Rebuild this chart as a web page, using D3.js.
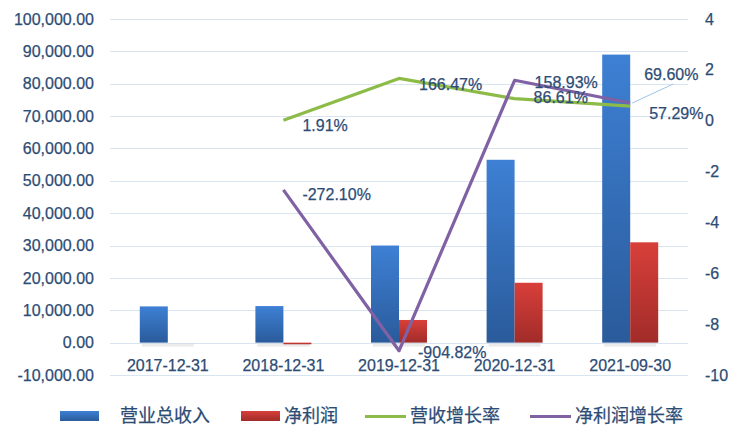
<!DOCTYPE html>
<html>
<head>
<meta charset="utf-8">
<script src="https://cdn.jsdelivr.net/npm/d3@7"></script>
<style>
  body { margin: 0; background: #fff; }
  svg text { font-family: "Liberation Sans", Arial, sans-serif; fill: #2d4c75; stroke: #2d4c75; stroke-width: 0.25px; }
</style>
</head>
<body>
<svg id="chart" width="733" height="441"></svg>
<script>
const categories = ['2017-12-31', '2018-12-31', '2019-12-31', '2020-12-31', '2021-09-30'];
const revenue = [11200, 11300, 30000, 56500, 89000];
const netProfit = [null, -500, 7000, 18500, 31000];
const revenueGrowth = [null, 0.0191, 1.6647, 0.8661, 0.5729];
const profitGrowth = [null, -2.7210, -9.0482, 1.5893, 0.6960];
const leftTicks = [-10000, 0, 10000, 20000, 30000, 40000, 50000, 60000, 70000, 80000, 90000, 100000];
const rightTicks = [-10, -8, -6, -4, -2, 0, 2, 4];
const legendNames = ['营业总收入', '净利润', '营收增长率', '净利润增长率'];

const svg = d3.select('#chart');
const plot = { left: 110, right: 688, top: 19, bottom: 375 };

const x = d3.scaleBand().domain(categories).range([plot.left, plot.right]);
const yL = d3.scaleLinear().domain([-10000, 100000]).range([plot.bottom, plot.top]);
const yR = d3.scaleLinear().domain([-10, 4]).range([plot.bottom, plot.top]);
const barW = 28;
const hyphen = (s) => s.replace(/\u2212/g, '-');

const defs = svg.append('defs');
function grad(id, top, bottom) {
  const lg = defs.append('linearGradient').attr('id', id)
    .attr('x1', '0%').attr('y1', '0%').attr('x2', '0%').attr('y2', '100%');
  lg.append('stop').attr('offset', '0%').attr('stop-color', top);
  lg.append('stop').attr('offset', '100%').attr('stop-color', bottom);
}
grad('blue-grad', '#3e80d4', '#2a5b9b');
grad('red-grad', '#d83f3a', '#a12c29');

// gridlines (left axis)
svg.append('g')
  .selectAll('line')
  .data(leftTicks)
  .enter()
  .append('line')
  .attr('x1', plot.left)
  .attr('x2', plot.right)
  .attr('y1', (d) => Math.round(yL(d)) + 0.5)
  .attr('y2', (d) => Math.round(yL(d)) + 0.5)
  .attr('stroke', '#d9e4f1')
  .attr('stroke-width', 1.2);

// left axis labels
const leftAxis = d3.axisLeft(yL).tickValues(leftTicks).tickSize(0).tickPadding(0)
  .tickFormat((d) => hyphen(d3.format(',.2f')(d)));
svg.append('g')
  .attr('transform', 'translate(94,0)')
  .call(leftAxis)
  .call((g) => g.select('.domain').remove())
  .selectAll('text')
  .style('font-size', '16px')
  .attr('fill', '#2d4c75');

// right axis labels
const rightAxis = d3.axisRight(yR).tickValues(rightTicks).tickSize(0).tickPadding(0)
  .tickFormat((d) => String(d));
svg.append('g')
  .attr('transform', 'translate(705,0)')
  .call(rightAxis)
  .call((g) => g.select('.domain').remove())
  .selectAll('text')
  .style('font-size', '16px')
  .attr('fill', '#2d4c75');

// category labels
svg.append('g')
  .selectAll('text')
  .data(categories)
  .enter()
  .append('text')
  .attr('x', (d) => x(d) + x.bandwidth() / 2)
  .attr('y', 371)
  .attr('text-anchor', 'middle')
  .style('font-size', '16px')
  .text((d) => d);

// bar shadows
const shadow = svg.append('g').attr('opacity', 0.12);
categories.forEach((c, i) => {
  shadow.append('rect')
    .attr('x', x(c) + x.bandwidth() / 2 - barW + 2)
    .attr('y', yL(0) + 1)
    .attr('width', barW * 2 - 4)
    .attr('height', 3)
    .attr('fill', '#666');
});

// bars
function barRect(g, val, xPos, fill) {
  const y0 = yL(0);
  const y1 = yL(val);
  g.append('rect')
    .attr('x', xPos)
    .attr('y', Math.min(y0, y1))
    .attr('width', barW)
    .attr('height', Math.max(1.5, Math.abs(y1 - y0)))
    .attr('fill', fill);
}
const bars = svg.append('g');
categories.forEach((c, i) => {
  const cx = x(c) + x.bandwidth() / 2;
  if (revenue[i] != null) barRect(bars, revenue[i], cx - barW, 'url(#blue-grad)');
  if (netProfit[i] != null) barRect(bars, netProfit[i], cx, 'url(#red-grad)');
});

// lines
function lineData(vals) {
  return categories
    .map((c, i) => ({ c, v: vals[i] }))
    .filter((d) => d.v != null);
}
const line = d3.line()
  .x((d) => x(d.c) + x.bandwidth() / 2)
  .y((d) => yR(d.v));

svg.append('path')
  .datum(lineData(revenueGrowth))
  .attr('d', line)
  .attr('fill', 'none')
  .attr('stroke', '#8dbb48')
  .attr('stroke-width', 3.2)
  .attr('stroke-linejoin', 'round');

svg.append('path')
  .datum(lineData(profitGrowth))
  .attr('d', line)
  .attr('fill', 'none')
  .attr('stroke', '#8062a4')
  .attr('stroke-width', 3.2)
  .attr('stroke-linejoin', 'round');

// data labels
const pct = (v) => (v * 100).toFixed(2) + '%';
const greenOffsets = [null, [19, 7], [20, 7], [19, 0], [19, 9]];
const purpleOffsets = [null, [19, 6], [19, 3], [20, 3], [14, -27]];
function labels(vals, offsets) {
  vals.forEach((v, i) => {
    if (v == null) return;
    const px = x(categories[i]) + x.bandwidth() / 2;
    const py = yR(v);
    svg.append('text')
      .attr('x', px + offsets[i][0])
      .attr('y', py + offsets[i][1])
      .attr('dominant-baseline', 'middle')
      .style('font-size', '16px')
      .text(pct(v));
  });
}
labels(revenueGrowth, greenOffsets);
labels(profitGrowth, purpleOffsets);

// leader line for 69.60%
const lastX = x(categories[4]) + x.bandwidth() / 2;
svg.append('line')
  .attr('x1', lastX + 2)
  .attr('y1', yR(profitGrowth[4]))
  .attr('x2', lastX + 43)
  .attr('y2', yR(profitGrowth[4]) - 19)
  .attr('stroke', '#9ec3ea')
  .attr('stroke-width', 1);

// legend
const legend = svg.append('g');
const items = [
  { name: legendNames[0], type: 'rect', fill: 'url(#blue-grad)', x: 60, tx: 120 },
  { name: legendNames[1], type: 'rect', fill: 'url(#red-grad)', x: 241, tx: 284 },
  { name: legendNames[2], type: 'line', fill: '#8dbb48', x: 365, tx: 410 },
  { name: legendNames[3], type: 'line', fill: '#8062a4', x: 530, tx: 575 }
];
items.forEach((it) => {
  if (it.type === 'rect') {
    legend.append('rect')
      .attr('x', it.x).attr('y', 411)
      .attr('width', 39).attr('height', 10)
      .attr('fill', it.fill);
  } else {
    legend.append('line')
      .attr('x1', it.x).attr('x2', it.x + 41)
      .attr('y1', 416.5).attr('y2', 416.5)
      .attr('stroke', it.fill).attr('stroke-width', 3.2);
  }
  legend.append('text')
    .attr('x', it.tx)
    .attr('y', 417)
    .attr('dominant-baseline', 'middle')
    .style('font-family', '"Noto Sans CJK SC", sans-serif')
    .style('font-size', '18px')
    .text(it.name);
});
</script>
</body>
</html>
